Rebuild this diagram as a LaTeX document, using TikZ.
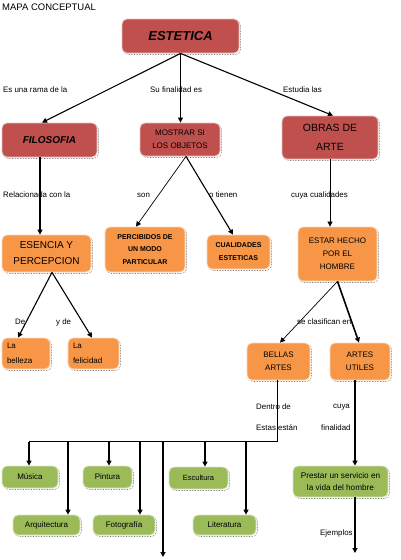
\documentclass[tikz,border=0pt]{standalone}
\usepackage{fontspec}
\setmainfont{Liberation Sans}
\usetikzlibrary{arrows.meta,shadows}
\definecolor{cred}{HTML}{C0504D}
\definecolor{corg}{HTML}{F79646}
\definecolor{cgrn}{HTML}{9BBB59}
\begin{document}
\begin{tikzpicture}[x=1pt,y=-1pt,
  box/.style={rounded corners=5pt, inner sep=1pt, align=center,
    font=\fontsize{8}{13}\selectfont,
    general shadow={shadow xshift=1.5pt, shadow yshift=-1.5pt, draw=black!55,
      densely dotted, fill=white, line width=0.6pt}},
  redbox/.style={box, fill=cred, draw=cred!35!white, line width=0.8pt},
  orgbox/.style={box, fill=corg, draw=corg!35!white, line width=0.8pt},
  grnbox/.style={box, fill=cgrn, draw=cgrn!35!white, line width=0.8pt},
  lbl/.style={anchor=west, inner sep=0pt, font=\fontsize{7.9}{9}\selectfont},
  arr/.style={-{Triangle[length=5pt,width=5pt]}},
  thn/.style={line width=0.7pt},
  med/.style={line width=1.1pt},
  thk/.style={line width=1.6pt}
]
\useasboundingbox (0,0) rectangle (400,560);
\fill[white] (0,0) rectangle (400,560);

% title
\node[anchor=west, inner sep=0pt, font=\fontsize{9.5}{11}\selectfont] (title) at (2,7) {MAPA CONCEPTUAL};

% red boxes
\node[redbox, minimum width=117pt, minimum height=34pt, font=\fontsize{13}{15}\bfseries\itshape\selectfont] (est) at (180.5,36) {ESTETICA};
\node[redbox, minimum width=95pt, minimum height=34pt, font=\fontsize{10}{12}\bfseries\itshape\selectfont] (fil) at (49.5,140) {FILOSOFIA};
\node[redbox, minimum width=80pt, minimum height=33pt] (mos) at (180,139.5) {MOSTRAR SI\\LOS OBJETOS};
\node[redbox, minimum width=96pt, minimum height=43pt, font=\fontsize{10.5}{19}\selectfont] (obr) at (330,137.5) {OBRAS DE\\ARTE};

% orange boxes
\node[orgbox, minimum width=89pt, minimum height=37pt, font=\fontsize{10}{16}\selectfont] (ese) at (46.5,253.5) {ESENCIA Y\\PERCEPCION};
\node[orgbox, minimum width=80pt, minimum height=45pt, font=\fontsize{7}{12.5}\bfseries\selectfont] (per) at (145,249.5) {PERCIBIDOS DE\\UN MODO\\PARTICULAR};
\node[orgbox, minimum width=63pt, minimum height=34pt, font=\fontsize{7}{13}\bfseries\selectfont] (cua) at (238.5,252) {CUALIDADES\\ESTETICAS};
\node[orgbox, minimum width=79pt, minimum height=54pt] (hom) at (337.5,254) {ESTAR HECHO\\POR EL\\HOMBRE};
\node[orgbox, minimum width=48pt, minimum height=31pt, text width=38pt, align=left, inner xsep=5pt, font=\fontsize{8}{15}\selectfont] (bel) at (26,353.5) {La\\belleza};
\node[orgbox, minimum width=51pt, minimum height=31pt, text width=41pt, align=left, inner xsep=5pt, font=\fontsize{8}{15}\selectfont] (fel) at (93.5,353.5) {La\\felicidad};
\node[orgbox, minimum width=63pt, minimum height=37pt] (bar) at (278.5,361.5) {BELLAS\\ARTES};
\node[orgbox, minimum width=60pt, minimum height=37pt] (aut) at (360,361.5) {ARTES\\UTILES};

% green boxes
\node[grnbox, minimum width=56pt, minimum height=22pt] (mus) at (30,477) {Música};
\node[grnbox, minimum width=49pt, minimum height=22pt] (pin) at (107.5,477) {Pintura};
\node[grnbox, minimum width=59pt, minimum height=22pt, font=\fontsize{7.5}{9}\selectfont] (esc) at (198.5,478) {Escultura};
\node[grnbox, minimum width=95pt, minimum height=31pt, font=\fontsize{8.2}{12}\selectfont] (pre) at (340.5,481.5) {Prestar un servicio en\\la vida del hombre};
\node[grnbox, minimum width=67pt, minimum height=20pt] (arq) at (46.5,525) {Arquitectura};
\node[grnbox, minimum width=62pt, minimum height=20pt] (fot) at (124,525) {Fotografía};
\node[grnbox, minimum width=63pt, minimum height=20pt] (lit) at (224.5,525) {Literatura};

% labels
\node[lbl] (l1) at (3,90) {Es una rama de la};
\node[lbl] (l2) at (150,90) {Su finalidad es};
\node[lbl] (l3) at (283,90) {Estudia las};
\node[lbl] (l4) at (3,195) {Relacionada con la};
\node[lbl] (l5) at (137,195) {son};
\node[lbl] (l6) at (209,195) {o tienen};
\node[lbl] (l7) at (291,195) {cuya cualidades};
\node[lbl] (l8) at (15,322) {De};
\node[lbl] (l9) at (56,322) {y de};
\node[lbl] (l10) at (297,322) {se clasifican en};
\node[lbl] (l11) at (256,407) {Dentro de};
\node[lbl] (l12) at (256,428) {Estas están};
\node[lbl] (l13) at (333,407) {cuya};
\node[lbl] (l14) at (321,428) {finalidad};
\node[lbl] (l15) at (320,533) {Ejemplos};

% connectors, level 1
\draw[arr, med] (est.south) -- ([xshift=-7.5pt]fil.north);
\draw[arr, thk] (est.south) -- (est.south |- mos.north);
\draw[arr, med] (est.south) -- ([xshift=3pt]obr.north);

% level 2
\coordinate (filout) at ([xshift=-9.5pt]fil.south);
\draw[arr, thk] (filout) -- (filout |- ese.north);
\draw[arr, thn] ([xshift=6pt]mos.south) -- ([xshift=-9pt]per.north);
\draw[arr, med] ([xshift=6pt]mos.south) -- ([xshift=-5.5pt]cua.north);
\draw[arr, thn] (obr.south) -- (obr.south |- hom.north);

% level 3
\draw[arr, med] ([xshift=5.5pt]ese.south) -- ([xshift=-8pt]bel.north);
\draw[arr, med] ([xshift=5.5pt]ese.south) -- ([xshift=-1.5pt]fel.north);
\draw[arr, thn] (hom.south) -- ([xshift=1.5pt]bar.north);
\draw[arr, thk] (hom.south) -- ([xshift=-1pt]aut.north);

% bellas artes tree
\coordinate (bus) at (0,441.5);
\coordinate (musin) at ([xshift=-1pt]mus.north);
\coordinate (arqin) at ([xshift=21.5pt]arq.north);
\coordinate (pinin) at ([xshift=1.5pt]pin.north);
\coordinate (fotin) at ([xshift=16pt]fot.north);
\coordinate (ext) at (163,557);
\coordinate (escin) at ([xshift=6.5pt]esc.north);
\coordinate (litin) at ([xshift=21.5pt]lit.north);
\draw[thn] ([xshift=-1.5pt]bar.south) |- (musin |- bus);
\draw[arr, med] (musin |- bus) -- (musin);
\draw[arr, med] (arqin |- bus) -- (arqin);
\draw[arr, med] (pinin |- bus) -- (pinin);
\draw[arr, med] (fotin |- bus) -- (fotin);
\draw[arr, med] (ext |- bus) -- (ext);
\draw[arr, med] (escin |- bus) -- (escin);
\draw[arr, med] (litin |- bus) -- (litin);

% artes utiles
\coordinate (autout) at ([xshift=-5pt]aut.south);
\draw[arr, thk] (autout) -- (autout |- pre.north);
\coordinate (preout) at ([xshift=14.5pt]pre.south);
\coordinate (ejend) at (355,553);
\draw[arr, med] (preout) -- (ejend);
\end{tikzpicture}
\end{document}
